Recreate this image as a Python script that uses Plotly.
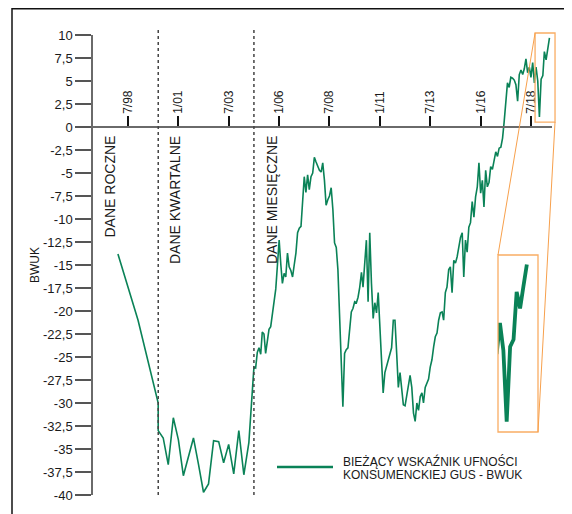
import pandas as pd
import plotly.graph_objects as go

# ---------------- data ----------------
annual_dates = ["1998-01-01", "1999-01-01", "2000-01-01"]
annual_values = [-13.8, -21.0, -30.0]

quarterly_start = "2000-01-01"
quarterly_values = [-33.0, -33.8, -36.7, -31.6, -34.0, -37.9, -36.0, -33.8, -36.7, -39.7,
                    -38.8, -34.1, -34.2, -36.5, -34.5, -37.7, -33.0, -37.8, -34.3]

monthly_start = "2004-09-01"
monthly_values = [
    -28.9, -26.1, -26.2, -24.5, -24.0, -24.7, -22.3, -22.5, -24.6, -23.0,
    -22.0, -21.7, -20.2, -18.5, -17.6, -15.0, -12.3, -15.0, -17.0, -15.9,
    -16.3, -13.7, -15.2, -15.6, -16.3, -15.0, -13.7, -11.5, -11.0, -10.8,
    -8.0, -5.4, -7.1, -5.2, -6.8, -5.4, -5.0, -3.3, -3.8, -4.3,
    -4.7, -4.9, -3.9, -5.8, -8.5, -7.9, -7.5, -6.6, -9.0, -12.6,
    -13.1, -15.5, -21.0, -27.0, -30.4, -24.6, -24.2, -24.0, -21.7, -20.1,
    -19.7, -19.0, -19.1, -18.5, -17.4, -15.8, -17.4, -14.5, -12.3, -19.0,
    -11.5, -17.0, -20.8, -19.1, -20.2, -18.0, -21.7, -24.6, -28.9, -26.7,
    -26.0, -25.3, -24.6, -24.0, -21.0, -21.0, -24.6, -28.3, -26.7, -28.6,
    -30.2, -30.3, -29.3, -28.3, -27.0, -28.3, -31.1, -32.0, -30.0, -30.8,
    -29.3, -28.9, -30.0, -28.3, -27.8, -27.4, -26.1, -25.3, -23.9, -22.8,
    -22.4, -21.0, -20.2, -20.1, -21.0, -18.0, -17.4, -15.5, -15.2, -18.0,
    -14.5, -14.8, -14.1, -13.0, -12.0, -11.5, -16.3, -12.3, -13.6, -10.9,
    -10.4, -8.1, -9.8, -7.6, -6.5, -3.9, -7.2, -5.8, -8.7, -4.7,
    -6.5, -6.0, -4.3, -4.6, -3.6, -2.7, -3.2, -2.3, -2.2, -1.2,
    0.5, 2.9, 4.8, 4.3, 5.4, 5.3, 5.1, 4.6, 2.8, 5.7,
    6.2, 5.7, 6.3, 7.4, 5.9, 6.5, 5.4, 7.0, 4.8, 6.5,
    5.0, 1.1, 5.2, 5.6, 8.2, 7.3, 8.5, 9.7,
]

x_tick_dates = ["1998-07-01", "2001-01-01", "2003-07-01", "2006-01-01", "2008-07-01",
                "2011-01-01", "2013-07-01", "2016-01-01", "2018-07-01"]
x_tick_labels = ["7/98", "1/01", "7/03", "1/06", "7/08", "1/11", "7/13", "1/16", "7/18"]

y_tick_values = [10, 7.5, 5, 2.5, 0, -2.5, -5, -7.5, -10, -12.5, -15, -17.5, -20,
                 -22.5, -25, -27.5, -30, -32.5, -35, -37.5, -40]
y_tick_labels = [("%g" % v).replace(".", ",") for v in y_tick_values]

section_labels = ["DANE ROCZNE", "DANE KWARTALNE", "DANE MIESIĘCZNE"]
section_breaks = ["2000-01-01", "2004-10-01"]
legend_lines = ["BIEŻĄCY WSKAŹNIK UFNOŚCI", "KONSUMENCKIEJ GUS - BWUK"]

# ---------------- build series ----------------
q_dates = pd.date_range(quarterly_start, periods=len(quarterly_values), freq="QS")
m_dates = pd.date_range(monthly_start, periods=len(monthly_values), freq="MS")
all_dates = list(pd.to_datetime(annual_dates)) + list(q_dates) + list(m_dates)
all_values = annual_values + quarterly_values + monthly_values

GREEN = "#0a8257"
ORANGE = "#f9ad64"
FONT = "Liberation Sans, Arial, sans-serif"

W, H = 572, 514
OFF = 8  # page body margin: the figure is drawn 8px in from the window corner
L, R, T, B = 93, 552, 35, 495  # plot area in window pixels


def dec2date(y):
    yr = int(y)
    start = pd.Timestamp(year=yr, month=1, day=1)
    end = pd.Timestamp(year=yr + 1, month=1, day=1)
    return start + (end - start) * (y - yr)


def date2dec(d):
    d = pd.Timestamp(d)
    start = pd.Timestamp(year=d.year, month=1, day=1)
    end = pd.Timestamp(year=d.year + 1, month=1, day=1)
    return d.year + (d - start) / (end - start)


X0, X1 = 1996.763, 2019.54
Y0, Y1 = -40, 10


def px(xpix):
    return (xpix - L) / (R - L)


def py(ypix):
    return (B - ypix) / (B - T)


def xdata2paper(dec):
    return (dec - X0) / (X1 - X0)


def ydata2paper(v):
    return (v - Y0) / (Y1 - Y0)


fig = go.Figure()
fig.add_trace(go.Scatter(x=all_dates, y=all_values, mode="lines",
                         line=dict(color=GREEN, width=1.6), showlegend=False,
                         xaxis="x", yaxis="y", hoverinfo="skip"))

# inset: zoom of the last months
ix0, ix1 = 2018.70, 2019.69
iy0, iy1 = 0.54, 10.22
fig.add_trace(go.Scatter(x=list(m_dates), y=monthly_values, mode="lines",
                         line=dict(color=GREEN, width=3.8), showlegend=False,
                         xaxis="x2", yaxis="y2", hoverinfo="skip"))

big_x0, big_x1, big_y0, big_y1 = px(498), px(538), py(432), py(255)

shapes = []
sb_x0, sb_x1 = xdata2paper(ix0), xdata2paper(ix1)
sb_y0, sb_y1 = ydata2paper(iy0), ydata2paper(iy1)
shapes.append(dict(type="rect", xref="paper", yref="paper", x0=sb_x0, x1=sb_x1, y0=sb_y0, y1=sb_y1,
                   line=dict(color=ORANGE, width=1.3)))
shapes.append(dict(type="rect", xref="paper", yref="paper", x0=big_x0, x1=big_x1, y0=big_y0, y1=big_y1,
                   line=dict(color=ORANGE, width=1.3)))
shapes.append(dict(type="line", xref="paper", yref="paper", x0=sb_x0, y0=sb_y1, x1=big_x0, y1=big_y1,
                   line=dict(color="#f7a04c", width=1)))
shapes.append(dict(type="line", xref="paper", yref="paper", x0=sb_x1, y0=sb_y0, x1=big_x1, y1=big_y0,
                   line=dict(color="#f7a04c", width=1)))

for d in section_breaks:
    xp = xdata2paper(date2dec(d))
    shapes.append(dict(type="line", xref="paper", yref="paper", x0=xp, x1=xp, y0=0, y1=py(30),
                       line=dict(color="#444444", width=1.5, dash="dot")))

# outer frame (top and left edges)
shapes.append(dict(type="line", xref="paper", yref="paper", x0=px(12), x1=px(600), y0=py(OFF + 0.8), y1=py(OFF + 0.8),
                   line=dict(color="#111111", width=1.5)))
shapes.append(dict(type="line", xref="paper", yref="paper", x0=px(12), x1=px(12), y0=py(OFF), y1=py(600),
                   line=dict(color="#111111", width=1.5)))

shapes.append(dict(type="line", xref="paper", yref="paper", x0=px(277), x1=px(333), y0=py(467), y1=py(467),
                   line=dict(color=GREEN, width=2.5)))

annotations = []
for label, xc in zip(section_labels, [109.5, 175, 272]):
    annotations.append(dict(text=label, xref="paper", yref="paper", x=px(xc), y=py(134),
                            xanchor="center", yanchor="top", textangle=-90, showarrow=False,
                            font=dict(family=FONT, size=14, color="#1a1a1a")))
annotations.append(dict(text="BWUK", xref="paper", yref="paper", x=px(35), y=py(265),
                        xanchor="center", yanchor="middle", textangle=-90, showarrow=False,
                        font=dict(family=FONT, size=12, color="#1a1a1a")))
for line_text, yc in zip(legend_lines, [461.5, 475]):
    annotations.append(dict(text=line_text, xref="paper", yref="paper", x=px(341), y=py(yc),
                            xanchor="left", yanchor="middle", showarrow=False,
                            font=dict(family=FONT, size=12, color="#1a1a1a")))

fig.update_layout(
    width=W, height=H,
    margin=dict(l=L - OFF, r=W - (R - OFF), t=T - OFF, b=H - (B - OFF), pad=0),
    paper_bgcolor="white", plot_bgcolor="rgba(0,0,0,0)",
    showlegend=False,
    font=dict(family=FONT, size=12, color="#1a1a1a"),
    xaxis=dict(type="date", range=[dec2date(X0), dec2date(X1)], anchor="free", position=py(127),
               side="top", showline=True, linecolor="#6a6a6a", linewidth=1.5,
               ticks="outside", ticklen=10, tickwidth=2, tickcolor="#111111",
               tickvals=x_tick_dates, ticktext=x_tick_labels, tickangle=-90,
               tickfont=dict(family=FONT, size=12, color="#1a1a1a"),
               showgrid=False, zeroline=False),
    yaxis=dict(range=[Y0, Y1], anchor="x", showline=True, linecolor="#6a6a6a", linewidth=1.5,
               ticks="outside", ticklen=16, tickwidth=1.5, tickcolor="#555555",
               tickvals=y_tick_values, ticktext=y_tick_labels,
               tickfont=dict(family=FONT, size=13, color="#1a1a1a"),
               showgrid=False, zeroline=False),
    xaxis2=dict(type="date", domain=[big_x0, big_x1], range=[dec2date(ix0), dec2date(ix1)],
                anchor="y2", visible=False, showgrid=False, zeroline=False),
    yaxis2=dict(domain=[big_y0, big_y1], range=[iy0, iy1], anchor="x2", visible=False,
                showgrid=False, zeroline=False),
    shapes=shapes,
    annotations=annotations,
)

fig.write_html("out.html")
